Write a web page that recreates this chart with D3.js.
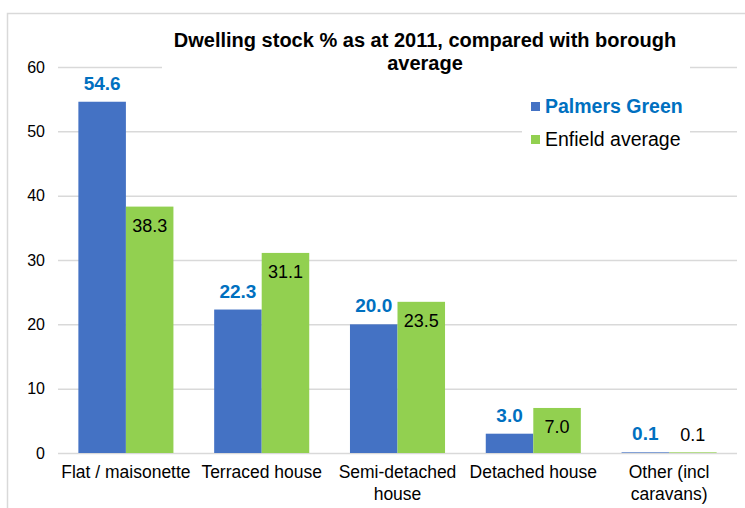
<!DOCTYPE html>
<html>
<head>
<meta charset="utf-8">
<script src="https://cdn.jsdelivr.net/npm/d3@7"></script>
<style>
body { margin: 0; background: #fff; }
text { font-family: "Liberation Sans", Arial, sans-serif; }
</style>
</head>
<body>
<div id="chart"></div>
<script>
// data
var categories = ["Flat / maisonette", "Terraced house", "Semi-detached house", "Detached house", "Other (incl caravans)"];
var categoryLines = [["Flat / maisonette"], ["Terraced house"], ["Semi-detached", "house"], ["Detached house"], ["Other (incl", "caravans)"]];
var seriesNames = ["Palmers Green", "Enfield average"];
var palmersGreen = [54.6, 22.3, 20.0, 3.0, 0.1];
var enfieldAverage = [38.3, 31.1, 23.5, 7.0, 0.1];
var yTicks = [0, 10, 20, 30, 40, 50, 60];

var W = 745, H = 508;
var svg = d3.select("#chart").append("svg")
  .attr("width", W).attr("height", H);

// outer frame (cut off at right and bottom)
svg.append("rect")
  .attr("x", 7.5).attr("y", 13.5)
  .attr("width", 800).attr("height", 600)
  .attr("fill", "#fff").attr("stroke", "#d9d9d9").attr("stroke-width", 1.5);

var x0 = d3.scaleBand().domain(categories).range([58, 737]).padding(0);
var x1 = d3.scaleBand().domain(seriesNames)
  .range([x0.step() * 0.15, x0.step() * 0.85]).padding(0);
var y = d3.scaleLinear().domain([0, 60]).range([453, 67]);

var colors = { "Palmers Green": "#4472C4", "Enfield average": "#92D050" };

// gridlines
svg.append("g").selectAll("line")
  .data(yTicks)
  .join("line")
    .attr("x1", 58).attr("x2", 737)
    .attr("y1", function(d) { return y(d) + 0.5; })
    .attr("y2", function(d) { return y(d) + 0.5; })
    .attr("stroke", "#d9d9d9").attr("stroke-width", 1.5);

// y axis labels
var yAxis = svg.append("g")
  .attr("transform", "translate(58,0)")
  .call(d3.axisLeft(y).tickValues(yTicks).tickSize(0).tickPadding(13));
yAxis.select(".domain").remove();
yAxis.selectAll("text")
  .style("font-family", "Liberation Sans, Arial, sans-serif")
  .style("font-size", "16px").attr("fill", "#000");

// bars
var rows = categories.map(function(c, i) {
  return [
    { cat: c, s: "Palmers Green", v: palmersGreen[i] },
    { cat: c, s: "Enfield average", v: enfieldAverage[i] }
  ];
});

var groups = svg.append("g").selectAll("g")
  .data(rows)
  .join("g")
    .attr("transform", function(d) { return "translate(" + x0(d[0].cat) + ",0)"; });

groups.selectAll("rect")
  .data(function(d) { return d; })
  .join("rect")
    .attr("x", function(d) { return x1(d.s); })
    .attr("y", function(d) { return y(d.v); })
    .attr("width", x1.bandwidth())
    .attr("height", function(d) { return y(0) - y(d.v); })
    .attr("fill", function(d) { return colors[d.s]; });

// value labels: blue above the bar, green inside the top
groups.selectAll("text")
  .data(function(d) { return d; })
  .join("text")
    .attr("x", function(d) { return x1(d.s) + x1.bandwidth() / 2; })
    .attr("y", function(d) {
      if (d.s === "Palmers Green") return y(d.v) - 12;
      return d.v < 3 ? y(d.v) - 11 : y(d.v) + 25;
    })
    .attr("text-anchor", "middle")
    .style("font-size", function(d) { return d.s === "Palmers Green" ? "19px" : "18px"; })
    .style("font-weight", function(d) { return d.s === "Palmers Green" ? "bold" : "normal"; })
    .attr("fill", function(d) { return d.s === "Palmers Green" ? "#0070C0" : "#000"; })
    .text(function(d) { return d.v.toFixed(1); });

// category labels
svg.append("g").selectAll("text")
  .data(categories)
  .join("text")
    .attr("x", function(d) { return x0(d) + x0.bandwidth() / 2; })
    .attr("y", 478)
    .attr("text-anchor", "middle")
    .style("font-size", "17.5px")
    .attr("fill", "#000")
    .each(function(d, i) {
      d3.select(this).selectAll("tspan")
        .data(categoryLines[i])
        .join("tspan")
          .attr("x", x0(d) + x0.bandwidth() / 2)
          .attr("dy", function(t, j) { return j === 0 ? 0 : 22; })
          .text(function(t) { return t; });
    });

// title with white backing
svg.append("rect").attr("x", 162).attr("y", 26).attr("width", 528).attr("height", 50).attr("fill", "#fff");
var title = svg.append("text")
  .attr("x", 425).attr("y", 47)
  .attr("text-anchor", "middle")
  .style("font-size", "20px").style("font-weight", "bold")
  .attr("fill", "#000");
title.append("tspan").attr("x", 425).text("Dwelling stock % as at 2011, compared with borough");
title.append("tspan").attr("x", 425).attr("dy", 23).text("average");

// legend
svg.append("rect").attr("x", 522).attr("y", 90).attr("width", 168).attr("height", 64).attr("fill", "#fff");
var legend = svg.append("g").selectAll("g")
  .data(seriesNames)
  .join("g")
    .attr("transform", function(d, i) { return "translate(531," + (107 + i * 33) + ")"; });
legend.append("rect")
  .attr("x", 0).attr("y", -5).attr("width", 9).attr("height", 9)
  .attr("fill", function(d) { return colors[d]; });
legend.append("text")
  .attr("x", 14).attr("y", 6)
  .style("font-size", "19.5px")
  .style("font-weight", function(d, i) { return i === 0 ? "bold" : "normal"; })
  .attr("fill", function(d, i) { return i === 0 ? "#0070C0" : "#000"; })
  .text(function(d) { return d; });
</script>
</body>
</html>
